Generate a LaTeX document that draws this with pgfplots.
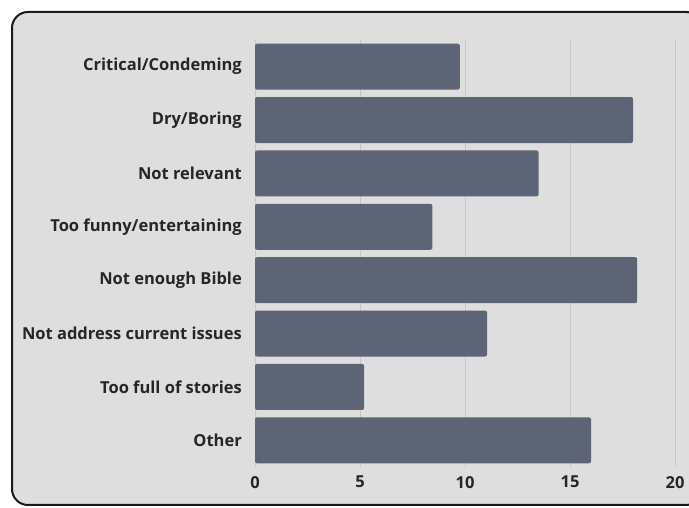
\documentclass[border=0pt]{standalone}
\usepackage{fontspec}
\setmainfont{Open Sans}
\usepackage{pgfplots}
\pgfplotsset{compat=1.18}
\definecolor{bg}{HTML}{DEDEDE}
\definecolor{barc}{HTML}{5C6476}
\definecolor{gridc}{HTML}{C6C6C6}
\definecolor{txt}{HTML}{262626}
\begin{document}
\begin{tikzpicture}[x=1bp,y=1bp]
\useasboundingbox (0,0) rectangle (689,508);
\draw[line width=2bp, draw=black!90, fill=bg, rounded corners=16bp] (12,3) rectangle (702,496);
\begin{axis}[
  at={(255bp,41bp)}, anchor=south west,
  scale only axis, width=420bp, height=427bp,
  xbar, bar width=0.86,
  xmin=0, xmax=20, ymin=-0.5, ymax=7.5,
  y dir=reverse,
  ytick={0,1,2,3,4,5,6,7},
  yticklabels={Critical/Condeming, Dry/Boring, Not relevant, Too funny/entertaining, Not enough Bible, Not address current issues, Too full of stories, Other},
  xtick={0,5,10,15,20},
  axis line style={draw=none},
  major tick length=0pt,
  xmajorgrids,
  grid style={gridc, line width=0.7bp},
  /pgf/number format/assume math mode=true,
  tick label style={font=\bfseries\fontsize{16.5bp}{20bp}\selectfont, text=txt, inner sep=0pt},
  yticklabel style={anchor=east, xshift=-13bp},
  xticklabel style={anchor=north, yshift=-9bp},
  axis on top=false,
]
\addplot[fill=barc, draw=none, rounded corners=2bp] coordinates {
  (9.75,0) (18.0,1) (13.5,2) (8.45,3) (18.2,4) (11.05,5) (5.2,6) (16.0,7)
};
\end{axis}
\end{tikzpicture}
\end{document}
